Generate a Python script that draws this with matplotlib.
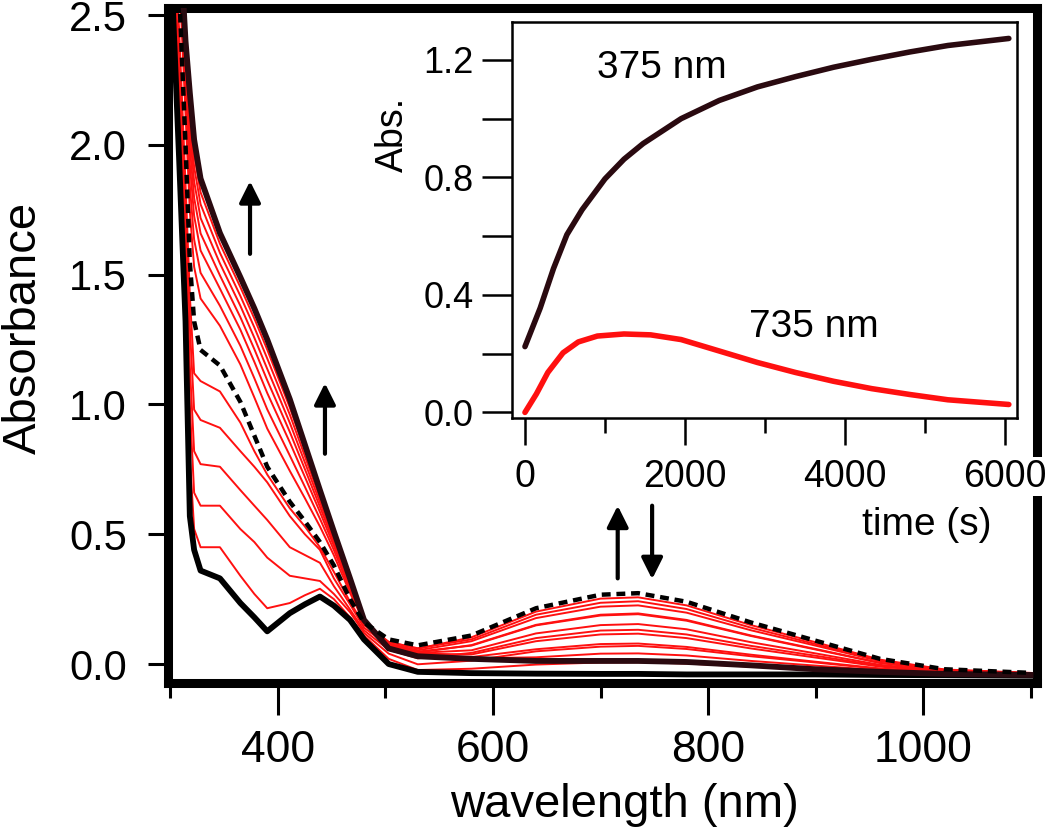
import matplotlib
matplotlib.use('Agg')
import matplotlib.pyplot as plt

plt.rcParams['font.family'] = ['Liberation Sans', 'DejaVu Sans']

# ---------------- data: main spectra ----------------
wavelength = [302, 308, 314, 318, 322, 328, 346, 365, 378, 390, 411, 425, 439, 452, 467, 480, 503,
              530, 580, 640, 700, 735, 780, 840, 900, 960, 1020, 1100]

initial_spectrum = [2.55, 1.95, 1.32, 0.57, 0.44, 0.36, 0.33, 0.235, 0.18, 0.126, 0.196, 0.23, 0.26, 0.225,
                    0.17, 0.095, 0.0,
                    -0.03, -0.035, -0.037, -0.038, -0.038, -0.04, -0.04, -0.04, -0.042, -0.043, -0.045]

dashed_spectrum = [3.0, 2.6, 2.0, 1.55, 1.32, 1.21, 1.15, 1.01, 0.88, 0.76, 0.625, 0.55, 0.47, 0.38,
                   0.25, 0.16, 0.095,
                   0.072, 0.11, 0.215, 0.267, 0.273, 0.24, 0.16, 0.09, 0.02, -0.02, -0.034]

final_spectrum = [3.3, 2.85, 2.4, 2.2, 2.02, 1.87, 1.66, 1.49, 1.37, 1.25, 1.02, 0.845, 0.67, 0.51,
                  0.33, 0.17, 0.06,
                  0.03, 0.02, 0.012, 0.012, 0.012, 0.008, -0.005, -0.02, -0.03, -0.038, -0.042]

# red spectra recorded before the 735 nm band reaches its maximum
rising_spectra = [
    [2.6, 2.05, 1.45, 0.8, 0.52, 0.45, 0.45, 0.34, 0.27, 0.215, 0.235, 0.265, 0.29, 0.25, 0.18, 0.11, 0.02,
     -0.023, -0.018, -0.002, 0.006, 0.007, 0.002, -0.01, -0.02, -0.031, -0.037, -0.039],
    [2.65, 2.15, 1.55, 1.0, 0.66, 0.61, 0.61, 0.52, 0.47, 0.41, 0.34, 0.33, 0.32, 0.27, 0.2, 0.12, 0.04,
     -0.001, 0.013, 0.049, 0.067, 0.07, 0.058, 0.03, 0.006, -0.019, -0.033, -0.038],
    [2.7, 2.25, 1.65, 1.15, 0.82, 0.77, 0.76, 0.67, 0.61, 0.555, 0.45, 0.42, 0.39, 0.3, 0.21, 0.13, 0.055,
     0.022, 0.043, 0.10, 0.129, 0.132, 0.114, 0.07, 0.032, -0.007, -0.029, -0.037],
    [2.75, 2.35, 1.75, 1.3, 0.98, 0.94, 0.91, 0.82, 0.76, 0.70, 0.57, 0.5, 0.44, 0.33, 0.23, 0.14, 0.07,
     0.044, 0.073, 0.151, 0.19, 0.195, 0.17, 0.11, 0.058, 0.005, -0.025, -0.036],
    [2.8, 2.45, 1.85, 1.42, 1.12, 1.09, 1.05, 0.93, 0.82, 0.73, 0.60, 0.53, 0.45, 0.355, 0.24, 0.15, 0.085,
     0.061, 0.095, 0.19, 0.236, 0.242, 0.212, 0.14, 0.077, 0.014, -0.022, -0.035],
]

# red spectra recorded after the maximum (735 nm band decaying, UV still rising)
decaying_spectra = [
    [3.09, 2.675, 2.12, 1.745, 1.53, 1.408, 1.303, 1.154, 1.027, 0.907, 0.744, 0.639, 0.53, 0.419, 0.274, 0.163, 0.085,
     0.059, 0.103, 0.202, 0.252, 0.257, 0.226, 0.15, 0.084, 0.017, -0.021, -0.034],
    [3.135, 2.713, 2.18, 1.843, 1.635, 1.507, 1.38, 1.226, 1.101, 0.981, 0.803, 0.683, 0.56, 0.439, 0.286, 0.165, 0.079,
     0.053, 0.088, 0.177, 0.221, 0.226, 0.198, 0.13, 0.071, 0.011, -0.023, -0.035],
    [3.174, 2.745, 2.232, 1.927, 1.726, 1.593, 1.446, 1.288, 1.164, 1.044, 0.854, 0.721, 0.586, 0.455, 0.296, 0.166, 0.075,
     0.048, 0.071, 0.149, 0.187, 0.192, 0.167, 0.108, 0.056, 0.004, -0.025, -0.036],
    [3.204, 2.77, 2.272, 1.992, 1.796, 1.659, 1.497, 1.336, 1.213, 1.093, 0.894, 0.751, 0.606, 0.468, 0.304, 0.167, 0.071,
     0.043, 0.053, 0.118, 0.15, 0.154, 0.134, 0.084, 0.041, -0.003, -0.028, -0.036],
    [3.231, 2.793, 2.308, 2.051, 1.859, 1.718, 1.543, 1.38, 1.257, 1.137, 0.929, 0.777, 0.624, 0.48, 0.312, 0.168, 0.068,
     0.04, 0.037, 0.088, 0.114, 0.117, 0.10, 0.06, 0.025, -0.01, -0.03, -0.037],
    [3.255, 2.813, 2.34, 2.103, 1.915, 1.771, 1.584, 1.418, 1.297, 1.177, 0.961, 0.801, 0.64, 0.491, 0.318, 0.169, 0.065,
     0.036, 0.027, 0.057, 0.077, 0.079, 0.066, 0.036, 0.009, -0.017, -0.032, -0.038],
    [3.276, 2.83, 2.368, 2.148, 1.964, 1.817, 1.619, 1.452, 1.331, 1.211, 0.988, 0.821, 0.654, 0.50, 0.324, 0.169, 0.063,
     0.033, 0.022, 0.026, 0.04, 0.041, 0.033, 0.012, -0.006, -0.024, -0.035, -0.038],
]

# ---------------- data: inset kinetics ----------------
time_375 = [0, 190, 357, 524, 714, 1000, 1238, 1476, 1952, 2429, 2905, 3381, 3857, 4333, 4810, 5286, 6048]
abs_375 = [0.224, 0.355, 0.49, 0.605, 0.69, 0.795, 0.862, 0.915, 1.0, 1.062, 1.108, 1.143, 1.175,
           1.202, 1.227, 1.249, 1.273]
time_735 = [0, 143, 286, 476, 667, 905, 1238, 1571, 1952, 2429, 2905, 3381, 3857, 4333, 4810, 5286, 6048]
abs_735 = [0.0, 0.063, 0.136, 0.203, 0.240, 0.260, 0.267, 0.264, 0.248, 0.209, 0.170, 0.136, 0.106,
           0.081, 0.061, 0.043, 0.027]

x_major = [400, 600, 800, 1000]
x_minor = [300, 500, 700, 900, 1100]
y_major = [0.0, 0.5, 1.0, 1.5, 2.0, 2.5]
inset_x_major = [0, 2000, 4000, 6000]
inset_x_minor = [1000, 3000, 5000]
inset_y_major = [0.0, 0.4, 0.8, 1.2]
inset_y_minor = [0.2, 0.6, 1.0]

RED = '#ff1010'
DARK = '#2a0a10'

W, H = 1050, 834
fig = plt.figure(figsize=(W / 100, H / 100), dpi=100)


def frac(l, r, t, b):
    return [l / W, 1 - b / H, (r - l) / W, (b - t) / H]


ax = fig.add_axes(frac(168, 1037, 8, 683))
ax.set_xlim(297.7, 1106)
ax.set_ylim(-0.073, 2.527)

for s in rising_spectra + decaying_spectra:
    ax.plot(wavelength, s, color=RED, lw=1.4, zorder=2)
ax.plot(wavelength, initial_spectrum, color='black', lw=4.2, zorder=3, solid_joinstyle='round')
ax.plot(wavelength, final_spectrum, color=DARK, lw=4.2, zorder=3, solid_joinstyle='round')
ax.plot(wavelength, dashed_spectrum, color='black', lw=3.2, ls=(0, (2.0, 1.3)), zorder=4)

for sp in ax.spines.values():
    sp.set_linewidth(6.5)
ax.set_xticks(x_major)
ax.set_xticks(x_minor, minor=True)
ax.set_yticks(y_major)
ax.set_yticklabels([f'{v:.1f}' for v in y_major])
ax.tick_params(axis='x', which='major', length=23, width=2.2, labelsize=32, pad=11)
ax.tick_params(axis='x', which='minor', length=11, width=2.2)
ax.tick_params(axis='y', which='major', length=14.5, width=2.2, labelsize=30, pad=15)
ax.set_xlabel('wavelength (nm)', fontsize=34, va='top')
ax.set_ylabel('Absorbance', fontsize=34)
ax.xaxis.set_label_coords(0.525, -0.148)
ax.yaxis.set_label_coords(-0.140, 0.526)

arrow_kw = dict(arrowstyle='-|>', color='black', lw=3.0, mutation_scale=32, shrinkA=0, shrinkB=0)
ax.annotate('', xy=(374, 1.86), xytext=(374, 1.58), arrowprops=arrow_kw, zorder=6)
ax.annotate('', xy=(443.7, 1.082), xytext=(443.7, 0.81), arrowprops=arrow_kw, zorder=6)
ax.annotate('', xy=(716, 0.61), xytext=(716, 0.33), arrowprops=arrow_kw, zorder=6)
ax.annotate('', xy=(748, 0.327), xytext=(748, 0.61), arrowprops=arrow_kw, zorder=6)

# ---------------- inset ----------------
axi = fig.add_axes(frac(512, 1017, 22, 418))
axi.set_xlim(-162, 6150)
axi.set_ylim(-0.019, 1.329)
axi.plot(time_375, abs_375, color=DARK, lw=4.0, solid_capstyle='round')
axi.plot(time_735, abs_735, color=RED, lw=4.0, solid_capstyle='round')
for sp in axi.spines.values():
    sp.set_linewidth(1.8)
axi.set_xticks(inset_x_major)
axi.set_xticks(inset_x_minor, minor=True)
axi.set_yticks(inset_y_major)
axi.set_yticks(inset_y_minor, minor=True)
axi.set_yticklabels([f'{v:.1f}' for v in inset_y_major])
axi.tick_params(axis='x', which='major', length=19.5, width=1.8, labelsize=27, pad=10)
axi.tick_params(axis='x', which='minor', length=11, width=1.8)
axi.tick_params(axis='y', which='both', length=21.5, width=1.8, labelsize=26, pad=6)
for lbl in axi.get_xticklabels():
    lbl.set_bbox(dict(facecolor='white', edgecolor='none', pad=1))
axi.set_xlabel('time (s)', fontsize=28, va='top')
axi.xaxis.set_label_coords(0.822, -0.225)
axi.set_ylabel('Abs.', fontsize=27)
axi.yaxis.set_label_coords(-0.20, 0.715)
axi.text(900, 1.173, '375 nm', fontsize=28, va='center', ha='left')
axi.text(2800, 0.29, '735 nm', fontsize=28, va='center', ha='left')

fig.savefig('out.png', dpi=100)
